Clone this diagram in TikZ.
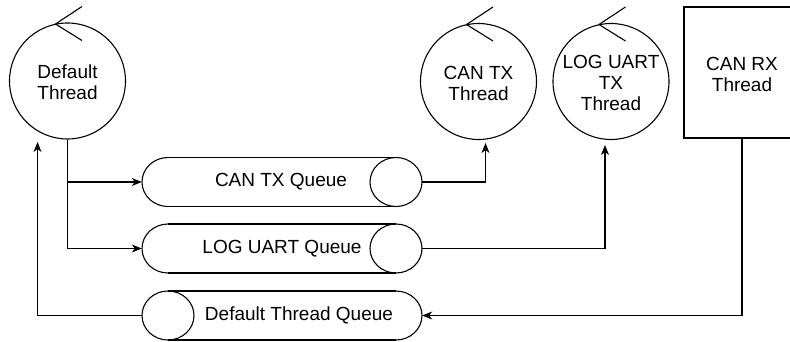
\documentclass[tikz,border=0pt]{standalone}
\usepackage{fontspec}
\setmainfont{Liberation Sans}
\usetikzlibrary{arrows.meta}
\tikzset{
  ln/.style={line width=1.1pt, draw=black},
  arr/.style={ln, -{Stealth[length=10pt,width=8pt,inset=3pt]}},
  txt/.style={align=center, font=\fontsize{19}{21}\selectfont, inner sep=0pt},
  thread/.style={ln, circle, minimum size=116pt, inner sep=0pt},
}
\newcommand{\chev}[1]{\draw[ln] ([shift={(14.5,-74.5)}]#1) -- ([shift={(-12,-57)}]#1) -- ([shift={(14.5,-40.5)}]#1);}
\begin{document}
\begin{tikzpicture}[x=1pt,y=-1pt]
\useasboundingbox (0,0) rectangle (790,342);
\clip (0,0) rectangle (790,342);
% threads
\node[thread] (dt) at (67.5,81) {};
\node[txt] at (67.5,82) {Default\\Thread};
\node[thread] (ct) at (478.5,81.5) {};
\node[txt] at (478.5,83) {CAN TX\\Thread};
\node[thread] (lt) at (611,81.5) {};
\node[txt] at (611,83) {LOG UART\\TX\\Thread};
\chev{dt.center}
\chev{ct.center}
\chev{lt.center}
\node[ln, draw, rectangle, minimum width=116pt, minimum height=131pt, inner sep=0pt] (rx) at (742,72.5) {};
\node[txt] at (742,74) {CAN RX\\Thread};
% queues
\foreach \cy in {182,248.5}{
  \draw[ln] (168,\cy-24.5) -- (396,\cy-24.5);
  \draw[ln] (168,\cy+24.5) -- (396,\cy+24.5);
  \draw[ln] (396,\cy) ellipse [x radius=26, y radius=24.5];
  \draw[ln] (168,\cy-24.5) arc[start angle=270, end angle=90, x radius=26, y radius=24.5];
}
\draw[ln] (168,315.5-24.5) -- (396,315.5-24.5);
\draw[ln] (168,315.5+24.5) -- (396,315.5+24.5);
\draw[ln] (168,315.5) ellipse [x radius=26, y radius=24.5];
\draw[ln] (396,315.5-24.5) arc[start angle=-90, end angle=90, x radius=26, y radius=24.5];
\node[inner sep=0pt, minimum width=280pt, minimum height=49pt] (q1) at (282,182) {};
\node[inner sep=0pt, minimum width=280pt, minimum height=49pt] (q2) at (282,248.5) {};
\node[inner sep=0pt, minimum width=280pt, minimum height=49pt] (q3) at (282,315.5) {};
\node[txt] at (281,182) {CAN TX Queue};
\node[txt] at (282,248.5) {LOG UART Queue};
\node[txt] at (299,315.5) {Default Thread Queue};
% connector end points
\coordinate (ctin) at (485.5,143);
\coordinate (ltin) at (605,145);
\coordinate (dtin) at (37.5,142);
\coordinate (rxout) at (742,138);
% connectors
\draw[arr] (dt.south) |- (q1.west);
\draw[arr] (dt.south) |- (q2.west);
\draw[arr] (q1.east) -| (ctin);
\draw[arr] (q2.east) -| (ltin);
\draw[arr] (rxout) |- (q3.east);
\draw[arr] (q3.west) -| (dtin);
\end{tikzpicture}
\end{document}
